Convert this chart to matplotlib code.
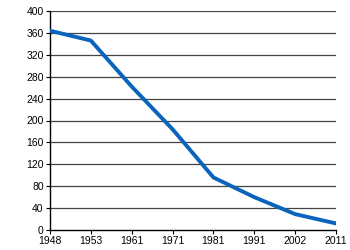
import matplotlib
matplotlib.use("Agg")
import matplotlib.pyplot as plt

years = ["1948", "1953", "1961", "1971", "1981", "1991", "2002", "2011"]
values = [364, 346, 262, 184, 96, 60, 29, 12]
yticks = [0, 40, 80, 120, 160, 200, 240, 280, 320, 360, 400]

plt.rcParams['font.family'] = ['Liberation Sans', 'DejaVu Sans']
fig = plt.figure(figsize=(3.5, 2.5), dpi=100)
ax = fig.add_axes([50/350, 20/250, 286/350, 219/250])
x = list(range(len(years)))
ax.plot(x, values, color="#0a64bc", linewidth=2.8, solid_joinstyle="round", zorder=3)
ax.set_xlim(0, len(years) - 1)
ax.set_ylim(0, 400)
ax.set_yticks(yticks)
ax.set_xticks(x)
ax.set_xticklabels(years)
for t in yticks[1:]:
    ax.axhline(t, color="#444444", linewidth=0.9, zorder=1)
for s in ["top", "right"]:
    ax.spines[s].set_visible(False)
for s in ["left", "bottom"]:
    ax.spines[s].set_color("black")
    ax.spines[s].set_linewidth(1.0)
ax.tick_params(axis="both", labelsize=7.5, length=3, width=0.8, pad=1.5, colors="black")
fig.savefig("out.png", dpi=100, facecolor="white")
